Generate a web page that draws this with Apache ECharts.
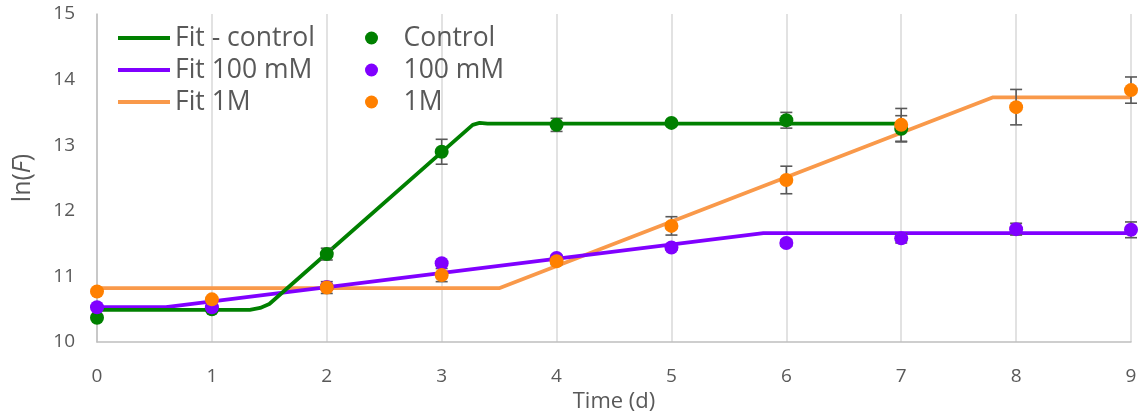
<!DOCTYPE html>
<html>
<head>
<meta charset="utf-8">
<script src="https://cdn.jsdelivr.net/npm/echarts@6/dist/echarts.min.js"></script>
<style>
html,body{margin:0;padding:0;background:#fff;}
#chart{width:1138px;height:412px;}
</style>
</head>
<body>
<div id="chart"></div>
<script>
// ---- data ----
var days = [0, 1, 2, 3, 4, 5, 6, 7, 8, 9];
var xTicks = ['0','1','2','3','4','5','6','7','8','9'];
var yTicks = ['10','11','12','13','14','15'];

var controlY   = [10.37, 10.50, 11.34, 12.90, 13.31, 13.34, 13.38, 13.25];
var controlErr = [0.03, 0.03, 0.09, 0.19, 0.10, 0.03, 0.12, 0.20];

var mM100Y   = [10.53, 10.53, 10.84, 11.20, 11.28, 11.44, 11.51, 11.58, 11.72, 11.71];
var mM100Err = [0.03, 0.03, 0.04, 0.03, 0.04, 0.04, 0.05, 0.07, 0.09, 0.12];

var m1Y   = [10.77, 10.65, 10.83, 11.02, 11.23, 11.77, 12.47, 13.31, 13.58, 13.84];
var m1Err = [0.03, 0.03, 0.09, 0.10, 0.05, 0.14, 0.21, 0.25, 0.27, 0.20];

var fitControlX = [0, 1.33, 1.42, 1.50, 3.27, 3.33, 3.40, 7];
var fitControlY = [10.49, 10.49, 10.52, 10.58, 13.31, 13.34, 13.33, 13.33];

var fit100X = [0, 0.6, 5.8, 9];
var fit100Y = [10.53, 10.53, 11.66, 11.66];

var fit1MX = [0, 3.5, 7.8, 9];
var fit1MY = [10.82, 10.82, 13.73, 13.73];

var names = ['Fit - control', 'Fit 100 mM', 'Fit 1M', 'Control', '100 mM', '1M'];

// ---- build ----
function pairs(xs, ys) { return xs.map(function (x, i) { return [x, ys[i]]; }); }
function errData(ys, es) { return ys.map(function (y, i) { return [days[i], y - es[i], y + es[i]]; }); }

var GREEN = '#008000', PURPLE = '#8000FF', ORANGE = '#FF8000', ORANGE_FIT = '#F9994A';
var TXT = '#595959';
var FONT = '"Open Sans", "Liberation Sans", sans-serif';

function errSeries(ys, es) {
  return {
    type: 'custom',
    z: 3,
    silent: true,
    data: errData(ys, es),
    renderItem: function (params, api) {
      var x = api.value(0);
      var lo = api.coord([x, api.value(1)]);
      var hi = api.coord([x, api.value(2)]);
      var w = 6;
      var st = { stroke: '#595959', lineWidth: 1.6 };
      return {
        type: 'group',
        children: [
          { type: 'line', shape: { x1: lo[0], y1: lo[1], x2: hi[0], y2: hi[1] }, style: st },
          { type: 'line', shape: { x1: lo[0] - w, y1: lo[1], x2: lo[0] + w, y2: lo[1] }, style: st },
          { type: 'line', shape: { x1: hi[0] - w, y1: hi[1], x2: hi[0] + w, y2: hi[1] }, style: st }
        ]
      };
    }
  };
}

function lineSeries(name, xs, ys, color, z) {
  return {
    name: name, type: 'line', data: pairs(xs, ys), symbol: 'none', showSymbol: false,
    z: z, lineStyle: { color: color, width: 3.8 }, itemStyle: { color: color }, animation: false
  };
}
function dotSeries(name, ys, color) {
  return {
    name: name, type: 'scatter', data: pairs(days.slice(0, ys.length), ys),
    symbol: 'circle', symbolSize: 14, z: 5, itemStyle: { color: color, opacity: 1 }, animation: false
  };
}

var chart = echarts.init(document.getElementById('chart'), null, { renderer: 'canvas' });
chart.setOption({
  animation: false,
  backgroundColor: '#ffffff',
  textStyle: { fontFamily: FONT },
  grid: { left: 97, right: 7, top: 14, bottom: 70, containLabel: false, outerBoundsMode: 'none' },
  legend: [
    {
      data: names.slice(0, 3), orient: 'vertical', left: 113, top: 17,
      icon: 'rect', itemWidth: 52, itemHeight: 4, itemGap: 0,
      textStyle: { fontFamily: FONT, fontSize: 26.5, color: TXT, lineHeight: 32, height: 32 },
      selectedMode: false
    },
    {
      data: names.slice(3), orient: 'vertical', left: 360, top: 17,
      icon: 'circle', itemWidth: 54, itemHeight: 13, itemGap: 0,
      textStyle: { fontFamily: FONT, fontSize: 26.5, color: TXT, lineHeight: 32, height: 32 },
      selectedMode: false
    }
  ],
  xAxis: {
    type: 'value', min: 0, max: 9, interval: 1,
    name: 'Time (d)', nameLocation: 'middle', nameGap: 42,
    nameTextStyle: { fontFamily: FONT, fontSize: 22, color: TXT },
    axisLine: { show: true, lineStyle: { color: '#bfbfbf', width: 1.5 } },
    axisTick: { show: false },
    axisLabel: { color: TXT, fontSize: 19, margin: 25, fontFamily: FONT,
      formatter: function (v) { return xTicks[Math.round(v)]; } },
    splitLine: { show: true, lineStyle: { color: '#d9d9d9', width: 1.5 } }
  },
  yAxis: {
    type: 'value', min: 10, max: 15, interval: 1,
    name: '{a|ln(}{i|F}{a|)}', nameLocation: 'middle', nameGap: 62, nameRotate: 90,
    nameTextStyle: { rich: {
      a: { fontFamily: FONT, fontSize: 25, color: TXT },
      i: { fontFamily: FONT, fontSize: 25, color: TXT, fontStyle: 'italic' }
    } },
    axisLine: { show: true, lineStyle: { color: '#bfbfbf', width: 1.5 } },
    axisTick: { show: false },
    axisLabel: { color: TXT, fontSize: 19, margin: 22, fontFamily: FONT,
      formatter: function (v) { return yTicks[Math.round(v - 10)]; } },
    splitLine: { show: false }
  },
  series: [
    lineSeries(names[2], fit1MX, fit1MY, ORANGE_FIT, 2),
    lineSeries(names[1], fit100X, fit100Y, PURPLE, 2),
    lineSeries(names[0], fitControlX, fitControlY, GREEN, 2),
    errSeries(controlY, controlErr),
    errSeries(mM100Y, mM100Err),
    errSeries(m1Y, m1Err),
    dotSeries(names[3], controlY, GREEN),
    dotSeries(names[4], mM100Y, PURPLE),
    dotSeries(names[5], m1Y, ORANGE)
  ]
});
</script>
</body>
</html>
